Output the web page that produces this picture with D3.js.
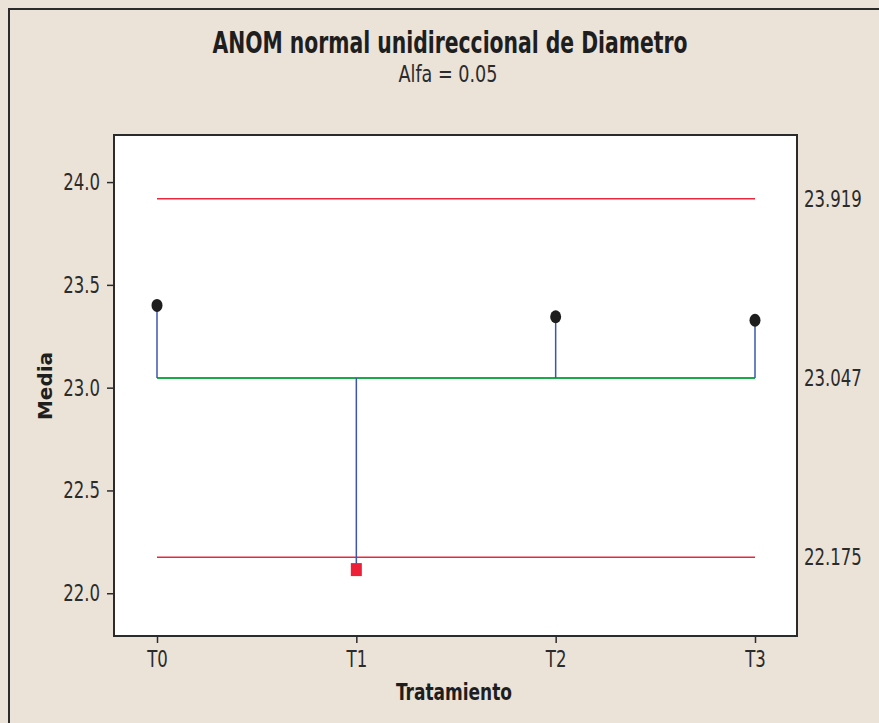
<!DOCTYPE html>
<html>
<head>
<meta charset="utf-8">
<script src="https://cdn.jsdelivr.net/npm/d3@7"></script>
<style>
  html, body { margin: 0; padding: 0; background: #ebe2d8; }
  svg { display: block; }
</style>
</head>
<body>
<script>
// ANOM chart data
const categories = ["T0", "T1", "T2", "T3"];
const means = [23.40, 22.115, 23.345, 23.328];
const centerLine = 23.047;
const upperLimit = 23.919;
const lowerLimit = 22.175;
const yTicks = [22.0, 22.5, 23.0, 23.5, 24.0];
const limitLabels = ["23.919", "23.047", "22.175"];

const W = 879, H = 723;
const box = { left: 114, top: 135, right: 797, bottom: 636 };
const narrow = "'Liberation Sans Narrow', 'DejaVu Sans Condensed', 'Arial Narrow', sans-serif";

// squeeze text horizontally to a condensed look
function condense(sel, k) {
  sel.each(function () {
    const len = this.getComputedTextLength();
    this.setAttribute("textLength", len * k);
    this.setAttribute("lengthAdjust", "spacingAndGlyphs");
  });
}
function fitWidth(sel, w) {
  sel.attr("textLength", w).attr("lengthAdjust", "spacingAndGlyphs");
}

const svg = d3.select("body").append("svg")
  .attr("width", W).attr("height", H);

// page background and outer frame
svg.append("rect").attr("width", W).attr("height", H).attr("fill", "#ebe2d8");
svg.append("path")
  .attr("d", `M9,${H + 5} L9,9 L${W + 5},9`)
  .attr("fill", "none").attr("stroke", "#2b2b2b").attr("stroke-width", 2);

// plot area
svg.append("rect")
  .attr("x", box.left).attr("y", box.top)
  .attr("width", box.right - box.left).attr("height", box.bottom - box.top)
  .attr("fill", "#ffffff").attr("stroke", "#2b2b2b").attr("stroke-width", 2);

const x = d3.scalePoint().domain(categories).range([157, 755]);
const y = d3.scaleLinear().domain([21.792, 24.229]).range([box.bottom, box.top]);

// axes
const yAxis = svg.append("g")
  .attr("transform", `translate(${box.left - 1},0)`)
  .call(d3.axisLeft(y).tickValues(yTicks).tickFormat(d3.format(".1f")).tickSize(6).tickPadding(7));
const xAxis = svg.append("g")
  .attr("transform", `translate(0,${box.bottom + 1})`)
  .call(d3.axisBottom(x).tickSize(6).tickPadding(8));
[yAxis, xAxis].forEach(g => {
  g.select(".domain").remove();
  g.selectAll(".tick line").attr("stroke", "#2b2b2b").attr("stroke-width", 1.5);
  g.selectAll(".tick text")
    .attr("fill", "#2b2b2b")
    .style("font-family", narrow)
    .style("font-size", "23px")
    .call(condense, 0.8);
});

const xFirst = x(categories[0]), xLast = x(categories[categories.length - 1]);

// decision limits and center line
svg.append("line")
  .attr("x1", xFirst).attr("x2", xLast)
  .attr("y1", y(upperLimit)).attr("y2", y(upperLimit))
  .attr("stroke", "#e8283f").attr("stroke-width", 1.5);
svg.append("line")
  .attr("x1", xFirst).attr("x2", xLast)
  .attr("y1", y(lowerLimit)).attr("y2", y(lowerLimit))
  .attr("stroke", "#e8283f").attr("stroke-width", 1.5);
svg.append("line")
  .attr("x1", xFirst).attr("x2", xLast)
  .attr("y1", y(centerLine)).attr("y2", y(centerLine))
  .attr("stroke", "#1aaa4a").attr("stroke-width", 2);

// stems from the center line to each mean
svg.selectAll(".stem").data(categories).enter().append("line")
  .attr("x1", d => x(d)).attr("x2", d => x(d))
  .attr("y1", y(centerLine))
  .attr("y2", (d, i) => y(means[i]))
  .attr("stroke", "#3c55b2").attr("stroke-width", 1.5);

// means: inside limits as dots, outside as red squares
const inside = v => v >= lowerLimit && v <= upperLimit;
categories.forEach((c, i) => {
  const v = means[i];
  if (inside(v)) {
    svg.append("ellipse")
      .attr("cx", x(c)).attr("cy", y(v))
      .attr("rx", 5.5).attr("ry", 6.5)
      .attr("fill", "#1e1e1e");
  } else {
    svg.append("rect")
      .attr("x", x(c) - 5.5).attr("y", y(v) - 6.5)
      .attr("width", 11).attr("height", 13)
      .attr("fill", "#ee2038");
  }
});

// limit labels at the right margin
[upperLimit, centerLine, lowerLimit].forEach((v, i) => {
  svg.append("text")
    .attr("x", 804).attr("y", y(v))
    .attr("dy", "0.35em")
    .attr("fill", "#2b2b2b")
    .style("font-family", narrow)
    .style("font-size", "23px")
    .text(limitLabels[i])
    .call(condense, 0.8);
});

// titles
svg.append("text")
  .attr("x", 450).attr("y", 53)
  .attr("text-anchor", "middle")
  .attr("fill", "#1e1e1e")
  .style("font-family", narrow)
  .style("font-weight", "bold")
  .style("font-size", "31px")
  .text("ANOM normal unidireccional de Diametro")
  .call(fitWidth, 475);
svg.append("text")
  .attr("x", 448).attr("y", 82)
  .attr("text-anchor", "middle")
  .attr("fill", "#2b2b2b")
  .style("font-family", narrow)
  .style("font-size", "23px")
  .text("Alfa = 0.05")
  .call(fitWidth, 99);

svg.append("text")
  .attr("x", 454).attr("y", 700)
  .attr("text-anchor", "middle")
  .attr("fill", "#1e1e1e")
  .style("font-family", narrow)
  .style("font-weight", "bold")
  .style("font-size", "23px")
  .text("Tratamiento")
  .call(fitWidth, 116);

svg.append("text")
  .attr("transform", "translate(52,386) rotate(-90)")
  .attr("text-anchor", "middle")
  .attr("fill", "#1e1e1e")
  .style("font-family", "'DejaVu Sans', sans-serif")
  .style("font-weight", "bold")
  .style("font-size", "19px")
  .text("Media")
  .call(fitWidth, 68);
</script>
</body>
</html>
